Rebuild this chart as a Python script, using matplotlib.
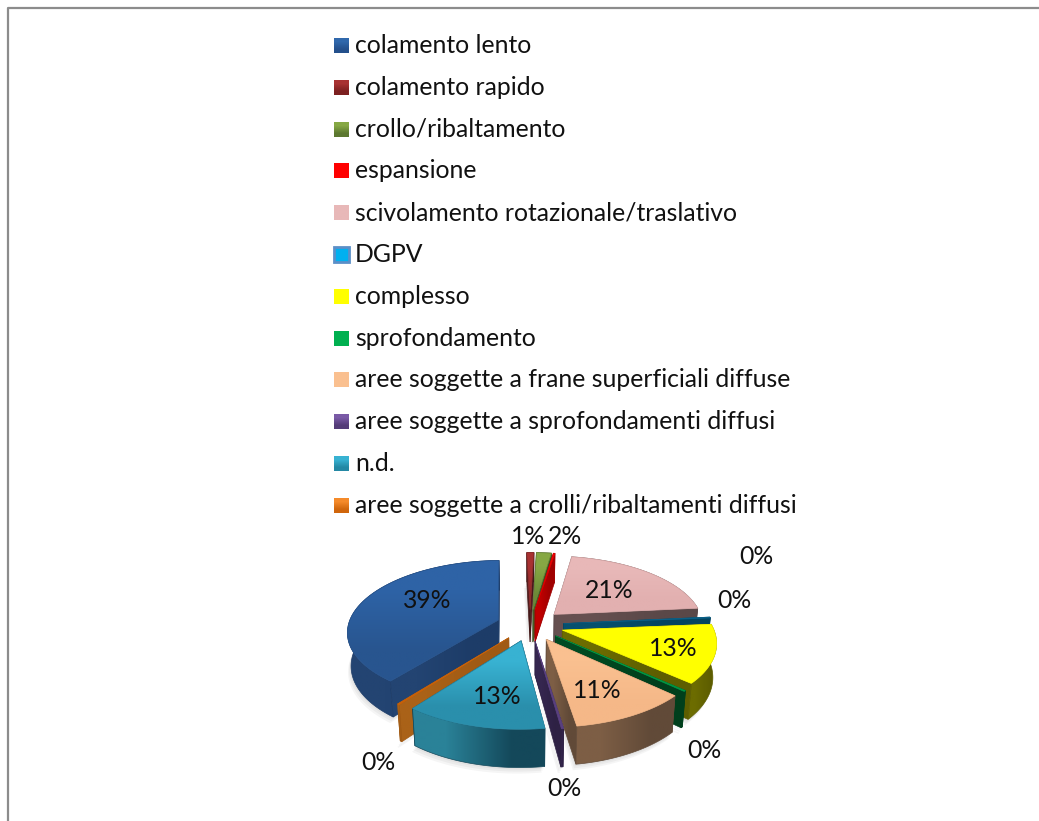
#!/usr/bin/env python3
"""Exploded 3D pie of landslide types, with the legend stacked above it."""

import matplotlib
matplotlib.use("Agg")
import matplotlib.pyplot as plt
import numpy as np
from matplotlib.colors import to_rgb
from matplotlib.patches import Polygon

categories = [
    "colamento lento",
    "colamento rapido",
    "crollo/ribaltamento",
    "espansione",
    "scivolamento rotazionale/traslativo",
    "DGPV",
    "complesso",
    "sprofondamento",
    "aree soggette a frane superficiali diffuse",
    "aree soggette a sprofondamenti diffusi",
    "n.d.",
    "aree soggette a crolli/ribaltamenti diffusi",
]
shares = [39.0, 0.9, 1.9, 0.2, 20.9, 0.2, 13.0, 0.2, 10.7, 0.2, 12.6, 0.2]

top_colors = ["#2e63a6", "#a83232", "#86a844", "#ff0000", "#e8b8b8", "#0f6f9a",
              "#ffff00", "#00b050", "#fac090", "#6a4c94", "#38b2d2", "#e36c09"]
top_dark = ["#28558f", "#8f2a2a", "#6c8a38", "#d80000", "#e2b0b0", "#0a5f86",
            "#ffff00", "#009944", "#f5b888", "#5a4080", "#2a8fac", "#c86008"]
wall_light = ["#234472", "#5a2020", "#4a6028", "#c00000", "#665050", "#06506e",
              "#6c6c00", "#004a22", "#7d5e45", "#35264f", "#2a8298", "#aa6218"]
wall_dark = ["#1d3c68", "#431818", "#3c4e20", "#a00000", "#5a4848", "#044460",
             "#5e5e00", "#003f1c", "#614a38", "#2e2144", "#14485a", "#a05a14"]
swatch_top = ["#3068ac", "#a83232", "#86a844", "#ff0000", "#e8b8b8", "#00b0f0",
              "#ffff00", "#00b050", "#fac090", "#7a5aa6", "#38b2d2", "#f58a2a"]
swatch_bottom = ["#24508c", "#7c2020", "#5c7830", "#ff0000", "#e8b8b8", "#00b0f0",
                 "#ffff00", "#00b050", "#fac090", "#543c78", "#2488a4", "#d0660c"]

label_xy = [(427, 600), (528, 537), (565, 536), (756, 556), (609, 590), (734, 601),
            (673, 648), (704, 750), (597, 690), (564, 788), (497, 696), (378, 762)]

W, H = 1039, 821
CX, CY = 530, 625
RX, RY = 150, 70
PERSP = 0.15
EXPLODE = 0.225
DEPTH = 33
START = np.radians(-1.5)
FONT = "Lato"
TEXT_SIZE = 17.85


def project(x, y, z):
    k = 1 / (1 + PERSP * y)
    shrink = 1 - 0.02 * z
    return (CX + RX * x * k * shrink, CY - RY * y * k * shrink + DEPTH * z * k)


def fill_gradient(ax, pts, c0, c1, vertical, zorder, edge=True):
    """Fill a polygon with a two colour gradient, clipped image underneath."""
    pts = np.column_stack(pts)
    x0, y0 = pts.min(axis=0)
    x1, y1 = pts.max(axis=0)
    grad = np.array([to_rgb(c0), to_rgb(c1)])
    img = grad[:, None, :] if vertical else grad[None, :, :]
    im = ax.imshow(img, extent=(x0, max(x1, x0 + 1), max(y1, y0 + 1), y0), aspect="auto",
                   interpolation="bilinear", zorder=zorder)
    clip = Polygon(pts, closed=True, transform=ax.transData, fc="none", ec="none")
    ax.add_patch(clip)
    im.set_clip_path(clip)
    if edge:
        # thin edge stops the clipped images looking jagged
        ax.add_patch(Polygon(pts, closed=True, fc="none", ec=c1, lw=0.5, zorder=zorder))


def slice_outline(a0, a1):
    mid = (a0 + a1) / 2
    ex, ey = EXPLODE * np.sin(mid), EXPLODE * np.cos(mid)
    t = np.linspace(a0, a1, max(int((a1 - a0) * 60), 3))
    return ex, ey, ex + np.sin(t), ey + np.cos(t)


def draw_shadow(ax, a0, a1):
    ex, ey, rim_x, rim_y = slice_outline(a0, a1)
    px, py = project(np.r_[ex, rim_x], np.r_[ey, rim_y], 1)
    for off in (2, 4, 6):
        ax.add_patch(Polygon(np.column_stack([px - off / 2, py + off]), closed=True,
                             fc="#808080", ec="none", alpha=0.08, zorder=3))


def draw_slice(ax, i, a0, a1, zorder):
    ex, ey, rim_x, rim_y = slice_outline(a0, a1)

    top = project(np.r_[ex, rim_x], np.r_[ey, rim_y], 0)
    rim_top = project(rim_x, rim_y, 0)
    rim_bot = project(rim_x, rim_y, 1)
    wall = (np.r_[rim_top[0], rim_bot[0][::-1]], np.r_[rim_top[1], rim_bot[1][::-1]])

    faces = [(rim_y.mean(), wall)]
    for xe, ye in [(rim_x[0], rim_y[0]), (rim_x[-1], rim_y[-1])]:
        xs = np.array([ex, xe, xe, ex])
        ys = np.array([ey, ye, ye, ey])
        zs = np.array([0, 0, 1, 1])
        faces.append((ys.mean(), project(xs, ys, zs)))

    for _, pts in sorted(faces, key=lambda f: -f[0]):
        fill_gradient(ax, pts, wall_light[i], wall_dark[i], False, zorder)
    fill_gradient(ax, top, top_colors[i], top_dark[i], True, zorder + 0.5)


def main():
    fig = plt.figure(figsize=(W / 100, H / 100), dpi=100)
    ax = fig.add_axes([0, 0, 1, 1])

    # chart frame, only left and top survive the crop
    ax.plot([8, 8, W], [H, 8, 8], color="#8c8c8c", lw=1.6, solid_capstyle="butt", zorder=1)

    # legend
    for i, name in enumerate(categories):
        y = 45.5 + i * 41.8
        box = ([334, 349, 349, 334], [y - 7.5, y - 7.5, y + 7.5, y + 7.5])
        if name == "DGPV":
            ax.add_patch(Polygon(np.column_stack(box), closed=True, fc="none", ec="#5b8fc8", lw=2, zorder=2.5))
        fill_gradient(ax, box, swatch_top[i], swatch_bottom[i], True, 2, edge=False)
        ax.text(355, y, name, fontsize=TEXT_SIZE, family=FONT, va="center", ha="left", color="#111111")

    # pie, far slices painted first
    edges = START + np.cumsum(np.r_[0, np.roll(shares, -1)]) / sum(shares) * 2 * np.pi
    order = list(range(1, len(shares))) + [0]
    spans = {i: (edges[n], edges[n + 1]) for n, i in enumerate(order)}
    depth_key = lambda i: -np.cos(sum(spans[i]) / 2)
    for i in spans:
        draw_shadow(ax, *spans[i])
    for z, i in enumerate(sorted(spans, key=depth_key)):
        draw_slice(ax, i, *spans[i], 5 + z)

    for share, (x, y) in zip(shares, label_xy):
        ax.text(x, y, f"{round(share)}%", fontsize=TEXT_SIZE, family=FONT, ha="center", va="center",
                color="#111111", zorder=40)

    ax.set_xlim(0, W)
    ax.set_ylim(H, 0)
    ax.axis("off")
    fig.savefig("out.png", dpi=100, facecolor="white")


if __name__ == "__main__":
    main()
